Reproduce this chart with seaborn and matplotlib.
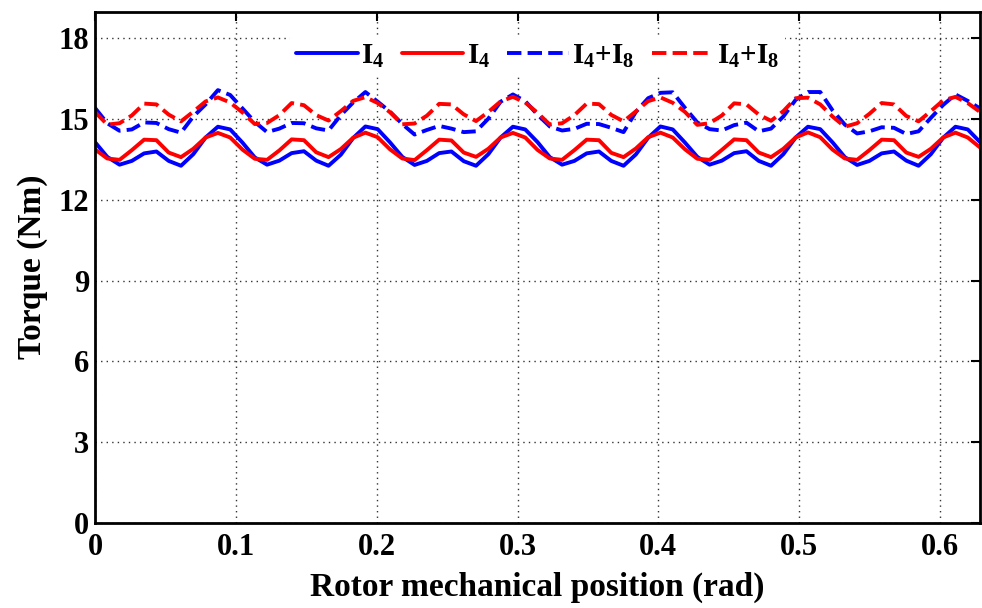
import numpy as np
import pandas as pd
import matplotlib
matplotlib.use('Agg')
import matplotlib.pyplot as plt
import seaborn as sns

# rotor position, 0.5 deg steps over 36 deg (pi/5 rad)
position = np.linspace(0, np.pi / 5, 73)

# torque (Nm), one row per 6 deg period
blue_solid = [
    14.15, 13.60, 13.31, 13.45, 13.73, 13.80, 13.45, 13.27, 13.70, 14.32, 14.72, 14.62,
    14.13, 13.58, 13.31, 13.46, 13.74, 13.81, 13.46, 13.27, 13.68, 14.30, 14.73, 14.63,
    14.14, 13.60, 13.30, 13.45, 13.74, 13.80, 13.44, 13.27, 13.70, 14.32, 14.72, 14.62,
    14.15, 13.59, 13.31, 13.45, 13.73, 13.80, 13.45, 13.27, 13.69, 14.31, 14.73, 14.62,
    14.13, 13.60, 13.31, 13.46, 13.74, 13.81, 13.45, 13.27, 13.70, 14.32, 14.72, 14.63,
    14.14, 13.59, 13.30, 13.45, 13.73, 13.80, 13.46, 13.27, 13.70, 14.31, 14.72, 14.62,
    14.15,
]
red_solid = [
    13.88, 13.54, 13.49, 13.85, 14.24, 14.22, 13.76, 13.59, 13.90, 14.32, 14.49, 14.32,
    13.87, 13.53, 13.49, 13.84, 14.25, 14.22, 13.77, 13.59, 13.89, 14.31, 14.50, 14.33,
    13.88, 13.54, 13.48, 13.85, 14.24, 14.21, 13.76, 13.60, 13.90, 14.32, 14.49, 14.32,
    13.86, 13.54, 13.49, 13.85, 14.24, 14.22, 13.75, 13.59, 13.91, 14.33, 14.50, 14.32,
    13.88, 13.53, 13.49, 13.86, 14.25, 14.22, 13.76, 13.59, 13.90, 14.32, 14.51, 14.33,
    13.87, 13.54, 13.49, 13.85, 14.24, 14.22, 13.76, 13.60, 13.90, 14.32, 14.50, 14.32,
    13.95,
]
blue_dashed = [
    15.42, 14.85, 14.57, 14.62, 14.88, 14.86, 14.63, 14.50, 15.10, 15.55, 16.08, 15.90,
    15.40, 14.90, 14.52, 14.65, 14.86, 14.85, 14.66, 14.58, 15.15, 15.62, 16.01, 15.65,
    15.28, 14.82, 14.43, 14.60, 14.75, 14.65, 14.52, 14.55, 15.02, 15.65, 15.92, 15.67,
    15.17, 14.73, 14.58, 14.64, 14.83, 14.82, 14.68, 14.52, 15.27, 15.78, 15.98, 16.00,
    15.42, 14.88, 14.63, 14.58, 14.78, 14.87, 14.55, 14.65, 15.10, 15.72, 16.01, 16.01,
    15.33, 14.80, 14.47, 14.55, 14.70, 14.68, 14.45, 14.55, 15.05, 15.53, 15.92, 15.68,
    15.40,
]
red_dashed = [
    15.27, 14.80, 14.85, 15.14, 15.58, 15.55, 15.17, 14.92, 15.28, 15.66, 15.81, 15.62,
    15.25, 14.82, 14.86, 15.15, 15.60, 15.52, 15.15, 14.95, 15.30, 15.68, 15.82, 15.60,
    15.26, 14.81, 14.84, 15.13, 15.57, 15.55, 15.18, 14.93, 15.27, 15.66, 15.83, 15.62,
    15.24, 14.80, 14.85, 15.15, 15.58, 15.56, 15.16, 14.92, 15.29, 15.67, 15.81, 15.61,
    15.27, 14.79, 14.85, 15.14, 15.59, 15.55, 15.17, 14.94, 15.30, 15.78, 15.80, 15.55,
    15.10, 14.72, 14.85, 15.20, 15.60, 15.55, 15.12, 14.92, 15.30, 15.70, 15.83, 15.60,
    15.27,
]

series_labels = [r'$\mathbf{I_4}$', r'$\mathbf{I_4}$',
                 r'$\mathbf{I_4{+}I_8}$', r'$\mathbf{I_4{+}I_8}$']
x_ticks = [0, 0.1, 0.2, 0.3, 0.4, 0.5, 0.6]
x_tick_labels = ['0', '0.1', '0.2', '0.3', '0.4', '0.5', '0.6']
y_ticks = [0, 3, 6, 9, 12, 15, 18]

sns.set_style('white')
plt.rcParams['font.family'] = ['Liberation Serif', 'DejaVu Serif']
plt.rcParams['font.weight'] = 'bold'
plt.rcParams['axes.labelweight'] = 'bold'
plt.rcParams['text.color'] = 'black'
plt.rcParams['axes.labelcolor'] = 'black'
plt.rcParams['mathtext.fontset'] = 'custom'
plt.rcParams['mathtext.rm'] = 'Liberation Serif:bold'
plt.rcParams['mathtext.bf'] = 'Liberation Serif:bold'
plt.rcParams['mathtext.it'] = 'Liberation Serif:bold'

df = pd.DataFrame({'position': position, 'blue_solid': blue_solid,
                   'red_solid': red_solid, 'blue_dashed': blue_dashed,
                   'red_dashed': red_dashed})

fig, ax = plt.subplots(figsize=(9.82, 6.08), dpi=100)
fig.subplots_adjust(left=0.0967, right=0.998, bottom=0.14, top=0.981)

styles = [('blue_solid', 'blue', '-'), ('red_solid', 'red', '-'),
          ('blue_dashed', 'blue', '--'), ('red_dashed', 'red', '--')]
for (col, color, ls), lab in zip(styles, series_labels):
    sns.lineplot(data=df, x='position', y=col, ax=ax, color=color,
                 linestyle=ls, linewidth=2.8, label=lab)

ax.set_xlim(0, np.pi / 5)
ax.set_ylim(0, 19)
ax.set_xticks(x_ticks, x_tick_labels)
ax.set_yticks(y_ticks)
ax.grid(True, linestyle=(0, (1, 3)), linewidth=1.0, color='0.2')
ax.set_axisbelow(True)
ax.tick_params(direction='in', length=6.5, width=1.5, top=True, right=True,
               labelsize=22, colors='black')
ax.tick_params(axis='x', pad=7)
ax.tick_params(axis='y', pad=4)
for sp in ax.spines.values():
    sp.set_linewidth(2)
    sp.set_color('black')

ax.set_xlabel('Rotor mechanical position (rad)', fontsize=24, labelpad=7)
ax.set_ylabel('Torque (Nm)', fontsize=24, labelpad=8)

ax.legend(loc='upper center', bbox_to_anchor=(0.5, 0.968), ncol=4,
          frameon=True, framealpha=1, edgecolor='none', fancybox=False,
          fontsize=21, handlelength=2.1, handletextpad=0.12,
          columnspacing=0.6, borderpad=0.2, borderaxespad=0.3)

fig.savefig('out.png', dpi=100)
